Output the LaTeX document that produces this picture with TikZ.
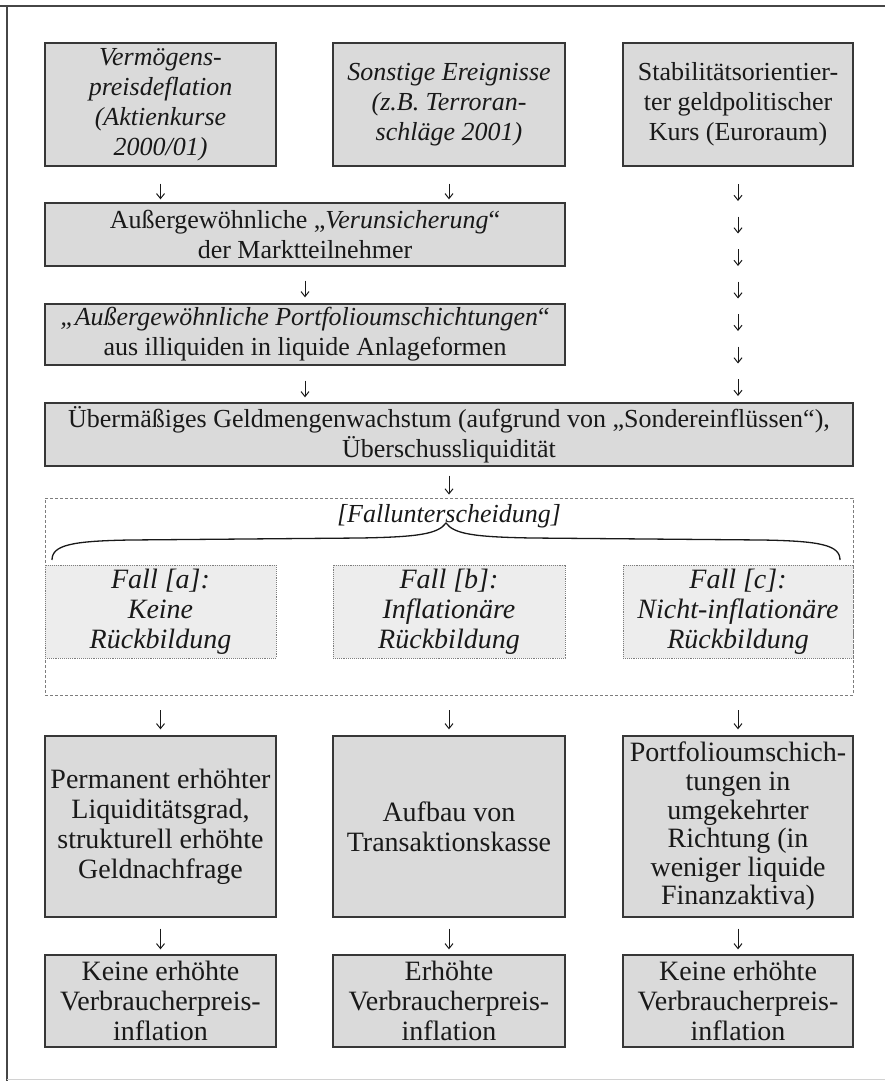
\documentclass[tikz,border=0pt]{standalone}
\usepackage{fontspec}
\setmainfont{Liberation Serif}
\usetikzlibrary{arrows.meta}
\definecolor{boxfill}{RGB}{218,218,218}
\definecolor{fallfill}{RGB}{237,237,237}
\definecolor{boxline}{RGB}{55,55,55}
\definecolor{ink}{RGB}{25,25,25}
\definecolor{dashline}{RGB}{125,125,125}
\definecolor{frameline}{RGB}{70,70,70}

\begin{document}
\begin{tikzpicture}[x=1pt,y=-1pt,
  txt/.style={text=ink,font=\fontsize{26}{30}\selectfont},
  ittxt/.style={text=ink,font=\fontsize{26}{30}\selectfont\itshape},
  bigtxt/.style={text=ink,font=\fontsize{28}{30}\selectfont},
  bigit/.style={text=ink,font=\fontsize{28}{30}\selectfont\itshape},
  box/.style={draw=boxline,fill=boxfill,line width=1.3pt,align=center,inner sep=0pt},
  fallbox/.style={draw=dashline,fill=fallfill,densely dotted,line width=0.9pt,align=center,inner sep=0pt,
                  minimum height=93pt},
  arr/.style={draw=ink,line width=1pt,-{Straight Barb[length=5pt,width=8pt]}},
  gap/.style 2 args={shorten <=#1,shorten >=#2}
]
\useasboundingbox (0,0) rectangle (885,1081);

% frame
\draw[frameline,line width=1.2pt] (0,6) -- (885,6);
\draw[frameline,line width=1.2pt] (7,6) -- (7,1081);
\draw[gray!35,line width=0.8pt] (7,1079.5) -- (885,1079.5);

% top row
\node[box,ittxt,minimum width=231pt,minimum height=123pt] (b1) at (160.5,104.5)
  {Vermögens-\\preisdeflation\\(Aktienkurse\\2000/01)};
\node[box,ittxt,minimum width=232pt,minimum height=123pt] (b2) at (449,104.5)
  {Sonstige Ereignisse\\(z.B. Terroran-\\schläge 2001)};
\node[box,txt,minimum width=230pt,minimum height=123pt] (b3) at (738,104.5)
  {Stabilitätsorientier-\\ter geldpolitischer\\Kurs (Euroraum)};

% chain on the left
\node[box,txt,minimum width=520pt,minimum height=63pt] (ver) at (305,234.5)
  {Außergewöhnliche „\textit{Verunsicherung}“\\der Marktteilnehmer};
\node[box,txt,minimum width=520pt,minimum height=61pt] (por) at (305,334.5)
  {\textit{„Außergewöhnliche Portfolioumschichtungen}“\\aus illiquiden in liquide Anlageformen};
\node[box,txt,minimum width=808pt,minimum height=63pt] (geld) at (449,434.5)
  {Übermäßiges Geldmengenwachstum (aufgrund von „Sondereinflüssen“),\\Überschussliquidität};

% case distinction
\node[draw=dashline,dashed,dash pattern=on 3pt off 2pt,line width=0.9pt,
      minimum width=808pt,minimum height=197pt,inner sep=0pt] (fall) at (449,596.5) {};
\node[ittxt,inner sep=0pt] (fu) at (449,516) {[Fallunterscheidung]};

% curly brace spanning the three cases
\coordinate (brl) at (52,560);
\coordinate (brt) at (446,523);
\coordinate (brr) at (840,560);
\draw[ink,line width=1.3pt]
  (brl) .. controls (52,545) and (72,541) .. (130,540)
  -- (360,538) .. controls (418,537) and (438,534) .. (brt)
  .. controls (454,534) and (474,537) .. (532,538)
  -- (762,540) .. controls (820,541) and (840,545) .. (brr);

\node[fallbox,bigit,minimum width=231pt] (fa) at (160.5,611.5) {Fall [a]:\\Keine\\Rückbildung};
\node[fallbox,bigit,minimum width=232pt] (fb) at (449,611.5) {Fall [b]:\\Inflationäre\\Rückbildung};
\node[fallbox,bigit,minimum width=230pt] (fc) at (738,611.5) {Fall [c]:\\Nicht-inflationäre\\Rückbildung};

% outcomes
\node[box,bigtxt,minimum width=231pt,minimum height=181pt] (m1) at (160.5,826.5)
  {Permanent erhöhter\\Liquiditätsgrad,\\strukturell erhöhte\\Geldnachfrage};
\node[box,bigtxt,minimum width=232pt,minimum height=181pt] (m2) at (449,826.5)
  {Aufbau von\\Transaktionskasse};
\node[box,bigtxt,font=\fontsize{28}{28.6}\selectfont,minimum width=230pt,minimum height=181pt] (m3) at (738,826.5)
  {Portfolioumschich-\\tungen in\\umgekehrter\\Richtung (in\\weniger liquide\\Finanzaktiva)};

\node[box,bigtxt,minimum width=231pt,minimum height=92pt] (e1) at (160.5,1001)
  {Keine erhöhte\\Verbraucherpreis-\\inflation};
\node[box,bigtxt,minimum width=232pt,minimum height=92pt] (e2) at (449,1001)
  {Erhöhte\\Verbraucherpreis-\\inflation};
\node[box,bigtxt,minimum width=230pt,minimum height=92pt] (e3) at (738,1001)
  {Keine erhöhte\\Verbraucherpreis-\\inflation};

% connectors
\draw[arr,gap={17pt}{3pt}] (b1) -- (b1 |- ver.north);
\draw[arr,gap={17pt}{3pt}] (b2) -- (b2 |- ver.north);
\draw[arr,gap={14pt}{6pt}] (ver) -- (por);
\draw[arr,gap={15pt}{5pt}] (por) -- (por |- geld.north);
\draw[arr,gap={9pt}{3pt}] (geld) -- (fall);

% right-hand column: a stack of short arrows down to the money growth box
\foreach \i in {0,...,7} {\coordinate (k\i) at (738,184+32.5*\i);}
\foreach \i [evaluate=\i as \j using int(\i+1)] in {0,...,6}
  {\draw[arr,shorten >=15.5pt] (k\i) -- (k\j);}

\draw[arr,gap={15pt}{6pt}] (fall.south -| m1) -- (m1);
\draw[arr,gap={15pt}{6pt}] (fall.south -| m2) -- (m2);
\draw[arr,gap={15pt}{6pt}] (fall.south -| m3) -- (m3);
\draw[arr,gap={11pt}{5pt}] (m1) -- (e1);
\draw[arr,gap={11pt}{5pt}] (m2) -- (e2);
\draw[arr,gap={11pt}{5pt}] (m3) -- (e3);
\end{tikzpicture}
\end{document}
